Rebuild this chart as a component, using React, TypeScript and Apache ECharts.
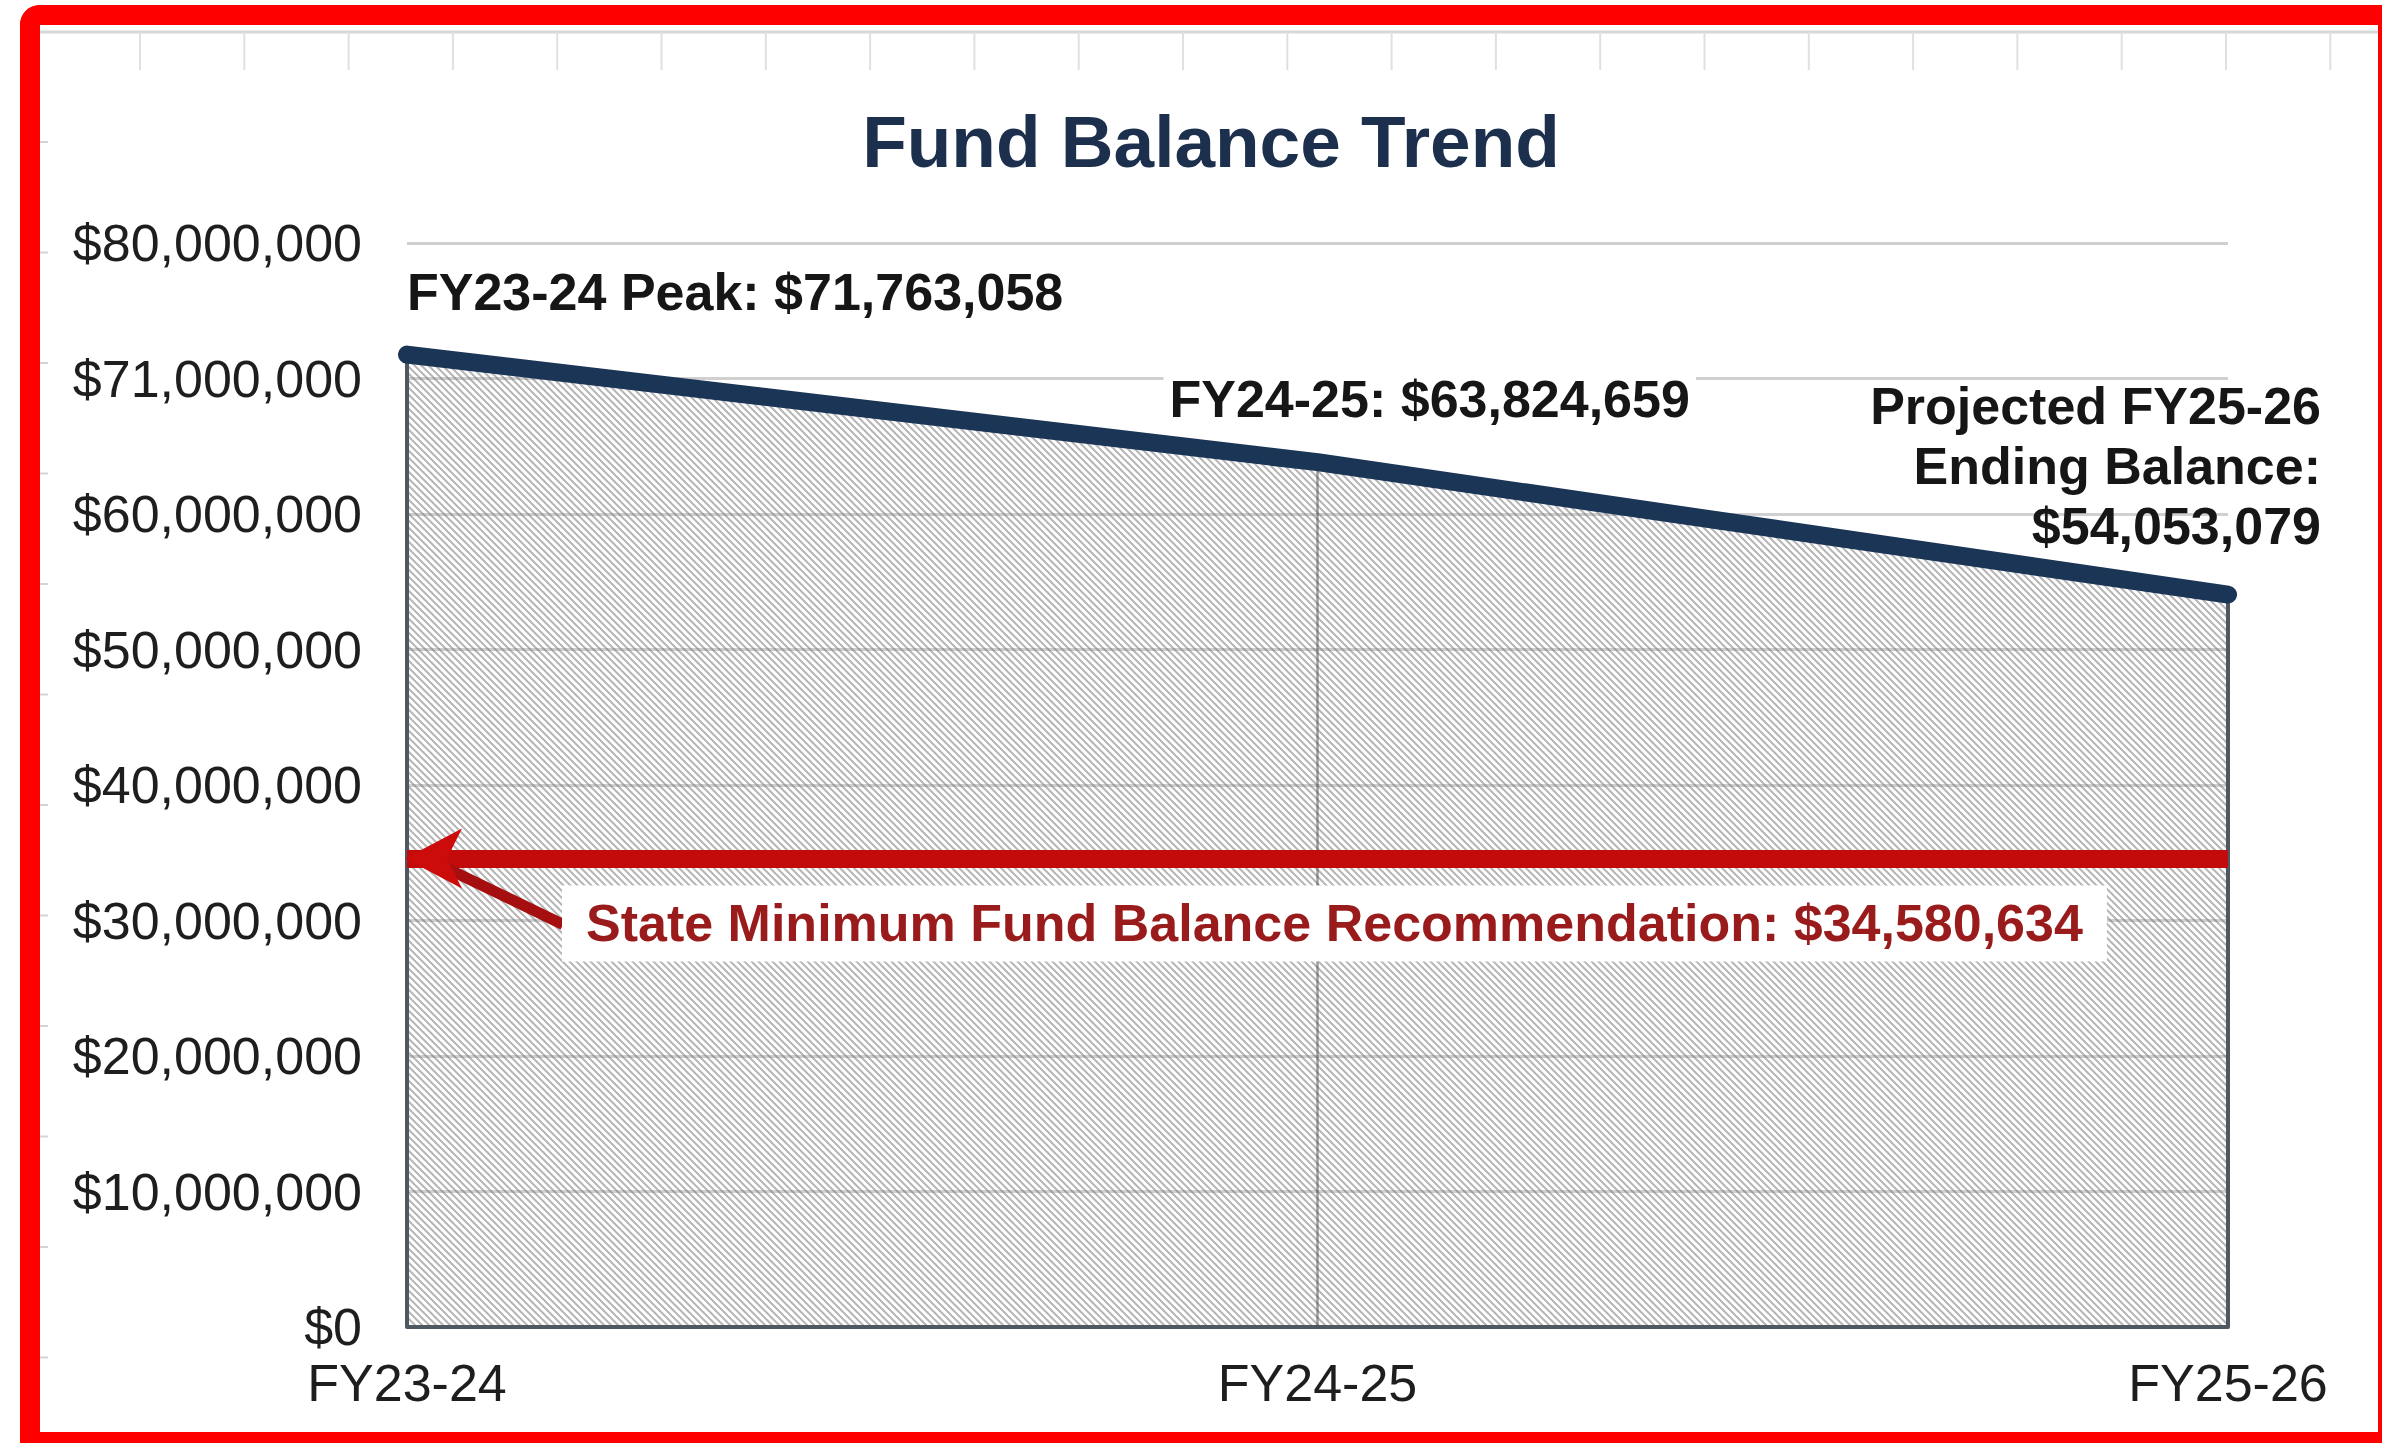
import React, { useEffect, useRef } from 'react';
import * as echarts from 'echarts';

// ---------- data ----------
const categories = ['FY23-24', 'FY24-25', 'FY25-26'];
const balances = [71763058, 63824659, 54053079];
const stateMinimum = 34580634;
const yTickLabels = [
  '$0',
  '$10,000,000',
  '$20,000,000',
  '$30,000,000',
  '$40,000,000',
  '$50,000,000',
  '$60,000,000',
  '$71,000,000',
  '$80,000,000',
];
const titleText = 'Fund Balance Trend';
const pointLabels = [
  'FY23-24 Peak: $71,763,058',
  'FY24-25: $63,824,659',
  'Projected FY25-26\nEnding Balance:\n$54,053,079',
];
const minimumLabel = 'State Minimum Fund Balance Recommendation: $34,580,634';

const FONT = '"Liberation Sans", Arial, Helvetica, sans-serif';

function makeHatch(): string {
  const s = 14;
  const c = document.createElement('canvas');
  c.width = s;
  c.height = s;
  const ctx = c.getContext('2d')!;
  ctx.clearRect(0, 0, s, s);
  ctx.strokeStyle = '#b6b6b6';
  ctx.lineWidth = 2.0;
  for (const off of [-14, -7, 0, 7, 14]) {
    ctx.beginPath();
    ctx.moveTo(-2, -2 + off);
    ctx.lineTo(s + 2, s + 2 + off);
    ctx.stroke();
  }
  return c.toDataURL();
}

export default function App() {
  const ref = useRef<HTMLDivElement>(null);

  useEffect(() => {
    if (!ref.current) return;
    const chart = echarts.init(ref.current, null, { renderer: 'svg' });
    const hatch = makeHatch();

    chart.setOption({
      animation: false,
      backgroundColor: '#ffffff',
      grid: { left: 407, right: 154, top: 243, bottom: 116, outerBoundsMode: 'none' },
      xAxis: {
        type: 'category',
        data: categories,
        boundaryGap: false,
        z: 3,
        axisLine: { show: true, lineStyle: { color: '#4f5761', width: 4 } },
        axisTick: { show: false },
        splitLine: { show: false },
        axisLabel: {
          interval: 0,
          margin: 30,
          color: '#1e1e1e',
          fontSize: 52,
          fontFamily: FONT,
        },
      },
      yAxis: {
        type: 'value',
        min: 0,
        max: 80000000,
        interval: 10000000,
        z: 3,
        axisLine: { show: false },
        axisTick: { show: false },
        splitLine: { show: true, lineStyle: { color: 'rgba(110,110,110,0.32)', width: 3 } },
        axisLabel: {
          margin: 45,
          color: '#1e1e1e',
          fontSize: 52,
          fontFamily: FONT,
          formatter: (v: number) => yTickLabels[Math.round(v / 10000000)],
        },
      },
      series: [
        {
          type: 'line',
          name: 'area',
          data: balances,
          symbol: 'none',
          z: 2,
          lineStyle: { width: 0, opacity: 0 },
          areaStyle: {
            opacity: 1,
            color: { image: hatch, repeat: 'repeat', imageWidth: 14, imageHeight: 14 },
          },
          silent: true,
          markLine: {
            silent: true,
            z: 3.5,
            symbol: 'none',
            label: { show: false },
            animation: false,
            data: [
              [
                { coord: [0, 0], lineStyle: { color: '#4f5761', width: 4, type: 'solid' } },
                { coord: [0, balances[0]] },
              ],
              [
                { coord: [1, 0], lineStyle: { color: 'rgba(80,80,80,0.55)', width: 2.5, type: 'solid' } },
                { coord: [1, balances[1]] },
              ],
              [
                { coord: [2, 0], lineStyle: { color: '#4f5761', width: 4, type: 'solid' } },
                { coord: [2, balances[2]] },
              ],
              [
                { coord: [0, stateMinimum], lineStyle: { color: '#c40b0b', width: 18, type: 'solid' } },
                { coord: [2, stateMinimum] },
              ],
            ],
          },
        },
        {
          type: 'line',
          name: 'balance',
          data: balances,
          symbol: 'none',
          z: 4,
          lineStyle: { color: '#1b3557', width: 18, cap: 'round', join: 'round' },
          silent: true,
        },
      ],
    });

    const px = (i: number, v: number) =>
      chart.convertToPixel({ xAxisIndex: 0, yAxisIndex: 0 }, [i, v]) as number[];
    const p0 = px(0, balances[0]);
    const p1 = px(1, balances[1]);
    const p2 = px(2, balances[2]);
    const a = px(0, stateMinimum);
    const ax = a[0];
    const ay = a[1];

    const labelFont = `bold 52px ${FONT}`;

    const decor: any[] = [];
    // faint spreadsheet grid remnants at the top and left
    decor.push({
      type: 'line',
      z: 1,
      silent: true,
      shape: { x1: 40, y1: 32, x2: 2378, y2: 32 },
      style: { stroke: '#d8d8d8', lineWidth: 3 },
    });
    for (let k = 0; k < 22; k++) {
      const x = 140 + k * 104.3;
      decor.push({
        type: 'line',
        z: 1,
        silent: true,
        shape: { x1: x, y1: 32, x2: x, y2: 70 },
        style: { stroke: '#e0e0e0', lineWidth: 2 },
      });
    }
    for (let k = 0; k < 12; k++) {
      const y = 142 + k * 110.5;
      decor.push({
        type: 'line',
        z: 1,
        silent: true,
        shape: { x1: 40, y1: y, x2: 48, y2: y },
        style: { stroke: '#d4d4d4', lineWidth: 2 },
      });
    }

    chart.setOption({
      graphic: {
        elements: [
          ...decor,
          // red frame
          { type: 'rect', z: 30, silent: true, shape: { x: 20, y: 5, width: 20, height: 1443, r: [20, 0, 0, 0] }, style: { fill: '#ff0000' } },
          { type: 'rect', z: 30, silent: true, shape: { x: 20, y: 5, width: 2370, height: 20, r: [20, 0, 0, 0] }, style: { fill: '#ff0000' } },
          { type: 'rect', z: 30, silent: true, shape: { x: 2378, y: 5, width: 10, height: 1443 }, style: { fill: '#ff0000' } },
          { type: 'rect', z: 30, silent: true, shape: { x: 20, y: 1432, width: 2370, height: 20 }, style: { fill: '#ff0000' } },
          // title
          {
            type: 'text',
            z: 20,
            x: 1211,
            y: 141,
            style: {
              text: titleText,
              font: `bold 73px ${FONT}`,
              fill: '#1c2f4d',
              align: 'center',
              verticalAlign: 'middle',
            },
          },
          // point labels
          {
            type: 'text',
            z: 20,
            x: p0[0],
            y: p0[1] - 63,
            style: { text: pointLabels[0], font: labelFont, fill: '#161616', align: 'left', verticalAlign: 'middle' },
          },
          {
            type: 'text',
            z: 20,
            x: p1[0] - 154,
            y: p1[1] - 63,
            style: {
              text: pointLabels[1],
              font: labelFont,
              fill: '#161616',
              align: 'left',
              verticalAlign: 'middle',
              backgroundColor: '#ffffff',
              padding: [6, 6],
            },
          },
          {
            type: 'text',
            z: 20,
            x: p2[0] + 93,
            y: p2[1] - 129,
            style: {
              text: pointLabels[2],
              font: labelFont,
              lineHeight: 60,
              fill: '#161616',
              align: 'right',
              verticalAlign: 'middle',
            },
          },
          // pointer from label to arrow
          {
            type: 'line',
            z: 19,
            silent: true,
            shape: { x1: ax + 40, y1: ay + 10, x2: ax + 156, y2: ay + 66 },
            style: { stroke: '#a50f0f', lineWidth: 11, lineCap: 'butt' },
          },
          // arrowhead
          {
            type: 'polygon',
            z: 20,
            silent: true,
            shape: { points: [[ax - 2, ay], [ax + 55, ay - 30], [ax + 40, ay], [ax + 55, ay + 30]] },
            style: { fill: '#cc0b0b' },
          },
          // minimum label
          {
            type: 'text',
            z: 20,
            x: ax + 155,
            y: ay + 65,
            style: {
              text: minimumLabel,
              font: labelFont,
              fill: '#9a1b1b',
              align: 'left',
              verticalAlign: 'middle',
              backgroundColor: '#ffffff',
              padding: [12, 24],
            },
          },
        ],
      },
    });

    return () => chart.dispose();
  }, []);

  return (
    <div
      ref={ref}
      style={{ position: 'fixed', left: 0, top: 0, width: '2382px', height: '1443px' }}
    />
  );
}
